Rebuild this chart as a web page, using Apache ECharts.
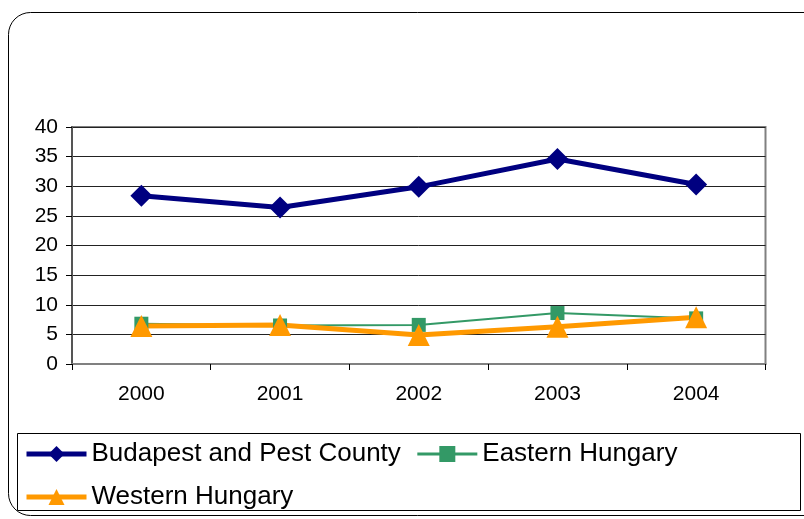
<!DOCTYPE html>
<html>
<head>
<meta charset="utf-8">
<script src="https://cdn.jsdelivr.net/npm/echarts@6/dist/echarts.min.js"></script>
<style>
  html, body { margin: 0; padding: 0; background: #fff; }
  #main { width: 804px; height: 519px; }
</style>
</head>
<body>
<div id="main"></div>
<script>
  // data
  var years = ['2000', '2001', '2002', '2003', '2004'];
  var budapest = [28.4, 26.4, 29.9, 34.6, 30.3];
  var eastern = [6.8, 6.5, 6.6, 8.6, 7.7];
  var western = [6.4, 6.6, 4.9, 6.3, 7.9];
  var seriesNames = ['Budapest and Pest County', 'Eastern Hungary', 'Western Hungary'];

  var font = "'Liberation Sans', Arial, sans-serif";
  var chart = echarts.init(document.getElementById('main'), null, { renderer: 'canvas' });

  chart.setOption({
    animation: false,
    backgroundColor: '#fff',
    textStyle: { fontFamily: font },
    graphic: [
      {
        type: 'rect',
        shape: { x: 8.5, y: 12.5, width: 840, height: 503, r: 22 },
        style: { fill: 'none', stroke: '#000', lineWidth: 1 },
        silent: true
      },
      {
        type: 'rect',
        shape: { x: 17.5, y: 433.5, width: 783, height: 77 },
        style: { fill: 'none', stroke: '#000', lineWidth: 1 },
        silent: true
      }
    ],
    grid: {
      left: 72, right: 38.5, top: 127, bottom: 155,
      show: true, borderColor: '#808080', borderWidth: 2, backgroundColor: 'transparent'
    },
    legend: {
      data: [
        { name: seriesNames[0], lineStyle: { width: 5 } },
        { name: seriesNames[1], lineStyle: { width: 3 } },
        { name: seriesNames[2], lineStyle: { width: 5 } }
      ],
      left: 24, top: 440, width: 760,
      orient: 'horizontal',
      itemWidth: 60, itemHeight: 20, itemGap: 15,
      textStyle: { fontSize: 26, color: '#000', fontFamily: font, lineHeight: 28 },
      padding: 0
    },
    xAxis: {
      type: 'category',
      data: years,
      boundaryGap: true,
      axisLine: { lineStyle: { color: '#808080', width: 2 } },
      axisTick: { show: true, length: 6, lineStyle: { color: '#000' } },
      axisLabel: { fontSize: 21, color: '#000', margin: 20, fontFamily: font },
      splitLine: { show: false }
    },
    yAxis: {
      type: 'value',
      min: 0, max: 40, interval: 5,
      axisLine: { show: true, lineStyle: { color: '#555', width: 2 } },
      axisTick: { show: true, length: 6, lineStyle: { color: '#000' } },
      axisLabel: { fontSize: 21, color: '#000', margin: 14, fontFamily: font },
      splitLine: { show: true, lineStyle: { color: '#222', width: 1 } }
    },
    series: [
      {
        name: seriesNames[0],
        type: 'line',
        data: budapest,
        symbol: 'diamond', symbolSize: 22,
        lineStyle: { color: '#000080', width: 5 },
        itemStyle: { color: '#000080' }
      },
      {
        name: seriesNames[1],
        type: 'line',
        data: eastern,
        symbol: 'rect', symbolSize: 14,
        lineStyle: { color: '#339966', width: 2 },
        itemStyle: { color: '#339966' }
      },
      {
        name: seriesNames[2],
        type: 'line',
        data: western,
        symbol: 'triangle', symbolSize: 22,
        lineStyle: { color: '#FF9900', width: 5 },
        itemStyle: { color: '#FF9900' }
      }
    ]
  });
</script>
</body>
</html>
